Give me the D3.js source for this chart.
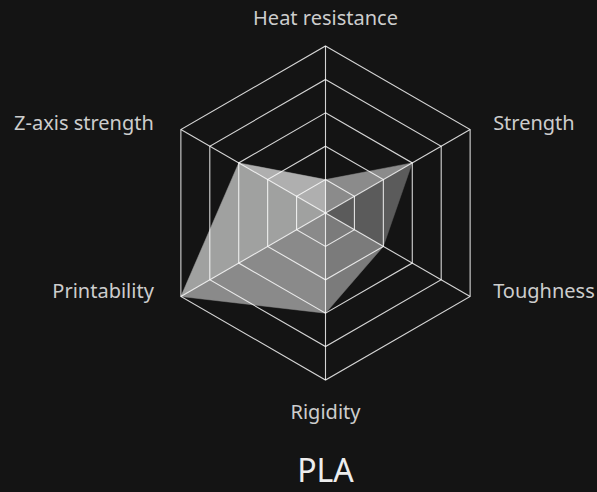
<!DOCTYPE html>
<meta charset="utf-8">

<style>
    body {
        margin: 0;
        background-color: #141414;
    }
    svg {
        display: block;
        font-family: "Noto Sans", sans-serif;
    }
</style>

<body>
    <script src="https://d3js.org/d3.v7.min.js"></script>
    <script>

    // Chart data
    var axes = ['Heat resistance', 'Strength', 'Toughness', 'Rigidity', 'Printability', 'Z-axis strength'];
    var values = [1, 3, 2, 3, 5, 3];
    var levels = [1, 2, 3, 4, 5];
    var title = 'PLA';

    var width = 597,
        height = 492;
    var cx = 325.5,
        cy = 213;
    var radius = 167;

    // Shade of each facet (center, axis i, axis i+1)
    var facetColors = ['#8b8b8b', '#5b5b5b', '#7b7b7b', '#8a8a8a', '#a0a1a0', '#afafaf'];

    var svg = d3.select('body').append('svg')
        .attr('width', width)
        .attr('height', height);

    var r = d3.scaleLinear()
        .domain([0, d3.max(levels)])
        .range([0, radius]);

    var angle = d3.scaleLinear()
        .domain([0, axes.length])
        .range([0, 2 * Math.PI]);

    function point(i, v) {
        var a = angle(i);
        return [cx + r(v) * Math.sin(a), cy - r(v) * Math.cos(a)];
    }

    // Data polygon drawn as shaded facets
    var facets = values.map(function(v, i) {
        var j = (i + 1) % values.length;
        return [[cx, cy], point(i, v), point(j, values[j])];
    });

    svg.append('g')
        .selectAll('path')
        .data(facets)
        .enter()
        .append('path')
        .attr('d', function(d) { return 'M' + d.join('L') + 'Z'; })
        .style('fill', function(d, i) { return facetColors[i]; })
        .style('stroke', function(d, i) { return facetColors[i]; })
        .style('stroke-width', 0.5);

    // Grid rings and spokes
    var grid = svg.append('g')
        .style('fill', 'none')
        .style('stroke', 'rgba(255,255,255,0.82)')
        .style('stroke-width', 1.1);

    grid.selectAll('.ring')
        .data(levels)
        .enter()
        .append('path')
        .attr('class', 'ring')
        .attr('d', function(l) {
            return 'M' + axes.map(function(a, i) { return point(i, l); }).join('L') + 'Z';
        });

    grid.selectAll('.spoke')
        .data(axes)
        .enter()
        .append('line')
        .attr('class', 'spoke')
        .attr('x1', cx)
        .attr('y1', cy)
        .attr('x2', function(d, i) { return point(i, d3.max(levels))[0]; })
        .attr('y2', function(d, i) { return point(i, d3.max(levels))[1]; });

    // Axis names
    svg.append('g')
        .selectAll('text')
        .data(axes)
        .enter()
        .append('text')
        .attr('x', function(d, i) {
            var p = point(i, d3.max(levels));
            var s = Math.sin(angle(i));
            if (s > 0.1) return p[0] + 23;
            if (s < -0.1) return p[0] - 27;
            return p[0];
        })
        .attr('y', function(d, i) {
            var p = point(i, d3.max(levels));
            var c = Math.cos(angle(i));
            if (c > 0.9) return p[1] - 21;
            if (c < -0.9) return p[1] + 39;
            return c > 0 ? p[1] : p[1] + 1.5;
        })
        .style('text-anchor', function(d, i) {
            var s = Math.sin(angle(i));
            if (s > 0.1) return 'start';
            if (s < -0.1) return 'end';
            return 'middle';
        })
        .style('font-size', '20px')
        .style('fill', '#cdcdcd')
        .text(function(d) { return d; });

    svg.append('text')
        .attr('x', cx)
        .attr('y', 482)
        .style('text-anchor', 'middle')
        .style('font-size', '32px')
        .style('fill', '#ededed')
        .text(title);

    </script>
</body>
